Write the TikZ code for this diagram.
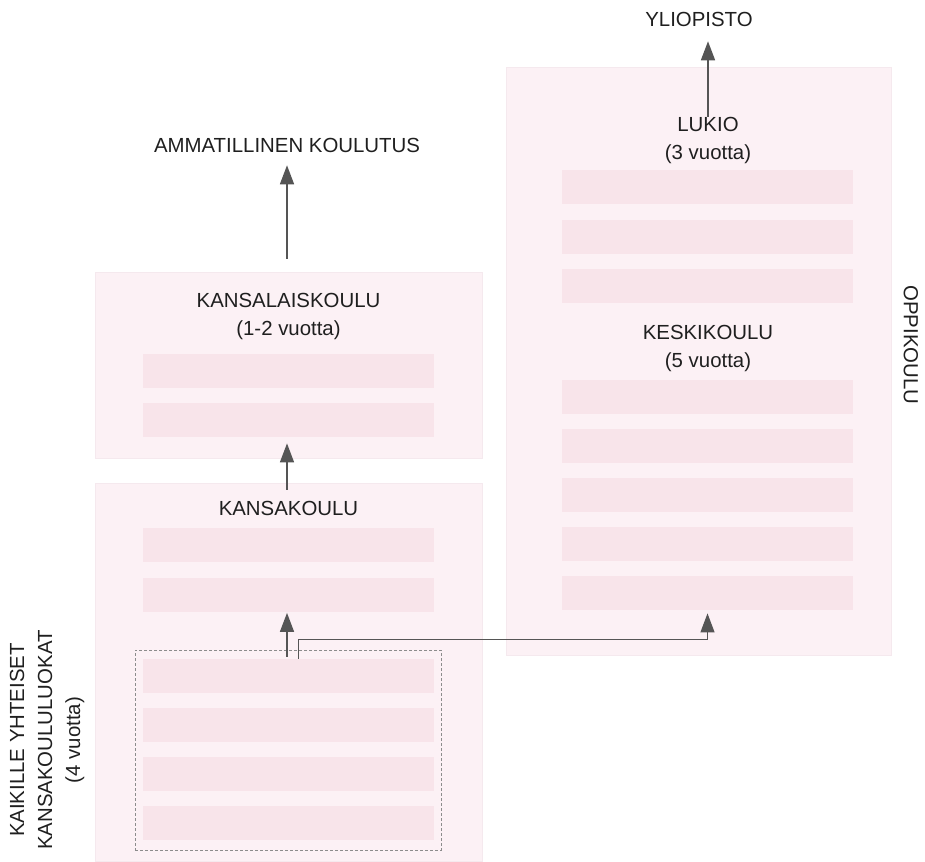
\documentclass[tikz,border=0pt]{standalone}
\usepackage{fontspec}
\setmainfont{Liberation Sans}
\usetikzlibrary{arrows.meta}
\definecolor{boxpink}{RGB}{252,241,245}
\definecolor{boxedge}{RGB}{245,233,238}
\definecolor{barpink}{RGB}{248,228,234}
\definecolor{arrowgray}{RGB}{85,85,85}

\begin{document}
\begin{tikzpicture}[x=0.5pt,y=-0.5pt,
		school box/.style={rectangle,fill=boxpink,draw=boxedge,line width=0.5pt,inner sep=0pt},
		year bar/.style={rectangle,fill=barpink,inner sep=0pt,minimum width=145.5pt,minimum height=17pt},
		common box/.style={rectangle,draw=black!45,dashed,dash pattern=on 1.5pt off 1pt,line width=0.5pt,inner sep=0pt,minimum width=153pt,minimum height=100pt},
		title/.style={font=\fontsize{10.2}{14}\selectfont,align=center,text=black!88},
		arr/.style={-{Triangle[width=7pt,length=9.5pt]},draw=arrowgray,line width=0.75pt}]
		\useasboundingbox (0,0) rectangle (925,861);

		% school boxes
		\node[school box,minimum width=193.5pt,minimum height=93pt] (kls) at (288.5,365) {};
		\node[school box,minimum width=193.5pt,minimum height=189pt] (kk) at (288.5,672) {};
		\node[school box,minimum width=192.5pt,minimum height=293.5pt] (ok) at (698.5,361.5) {};

		\node[title] (klsname) at (288.5,316) {KANSALAISKOULU\\(1-2 vuotta)};
		\node[title] (kkname) at (288.5,508) {KANSAKOULU};
		\node[title] (lukio) at (708,140) {LUKIO\\(3 vuotta)};
		\node[title] (keski) at (708,348) {KESKIKOULU\\(5 vuotta)};

		% year bars
		\node[year bar] (kls1) at (288.5,371) {};
		\node[year bar] (kls2) at (288.5,420) {};
		\node[year bar] (kk1) at (288.5,545) {};
		\node[year bar] (kk2) at (288.5,594.5) {};
		\node[year bar] (yb1) at (288.5,676) {};
		\node[year bar] (yb2) at (288.5,725) {};
		\node[year bar] (yb3) at (288.5,774) {};
		\node[year bar] (yb4) at (288.5,822.5) {};
		\node[year bar] (lu1) at (707.5,187.5) {};
		\node[year bar] (lu2) at (707.5,237) {};
		\node[year bar] (lu3) at (707.5,286) {};
		\node[year bar] (ke1) at (707.5,397) {};
		\node[year bar] (ke2) at (707.5,446) {};
		\node[year bar] (ke3) at (707.5,495) {};
		\node[year bar] (ke4) at (707.5,544) {};
		\node[year bar] (ke5) at (707.5,593) {};

		\node[common box] (yht) at (288,750) {};

		% outside labels
		\node[title] (amk) at (287,145) {AMMATILLINEN KOULUTUS};
		\node[title] (yo) at (699,19) {YLIOPISTO};
		\node[title,rotate=-90] (oppi) at (911,345) {OPPIKOULU};
		\node[title,rotate=90] (kaikille) at (47,740) {KAIKILLE YHTEISET\\KANSAKOULULUOKAT\\(4 vuotta)};

		% paths
		\draw[arr,shorten <=6.5pt,shorten >=3pt] (kls.north -| amk) -- (amk);
		\draw[arr,shorten <=-3.5pt,shorten >=4pt] (lukio.north) -- (lukio.north |- yo.south);
		\draw[arr,shorten <=-3.5pt,shorten >=3pt] (kk.north -| amk) -- (kls2.south -| amk);
		\draw[arr,shorten <=1pt,shorten >=0.5pt] (yb1.north -| amk) -- (kk2.south -| amk);
		\draw[arr,line width=0.6pt,shorten >=1.5pt] ([xshift=5pt]yb1.north) -- ++(0,-19) -| (ke5.south);
\end{tikzpicture}
\end{document}
